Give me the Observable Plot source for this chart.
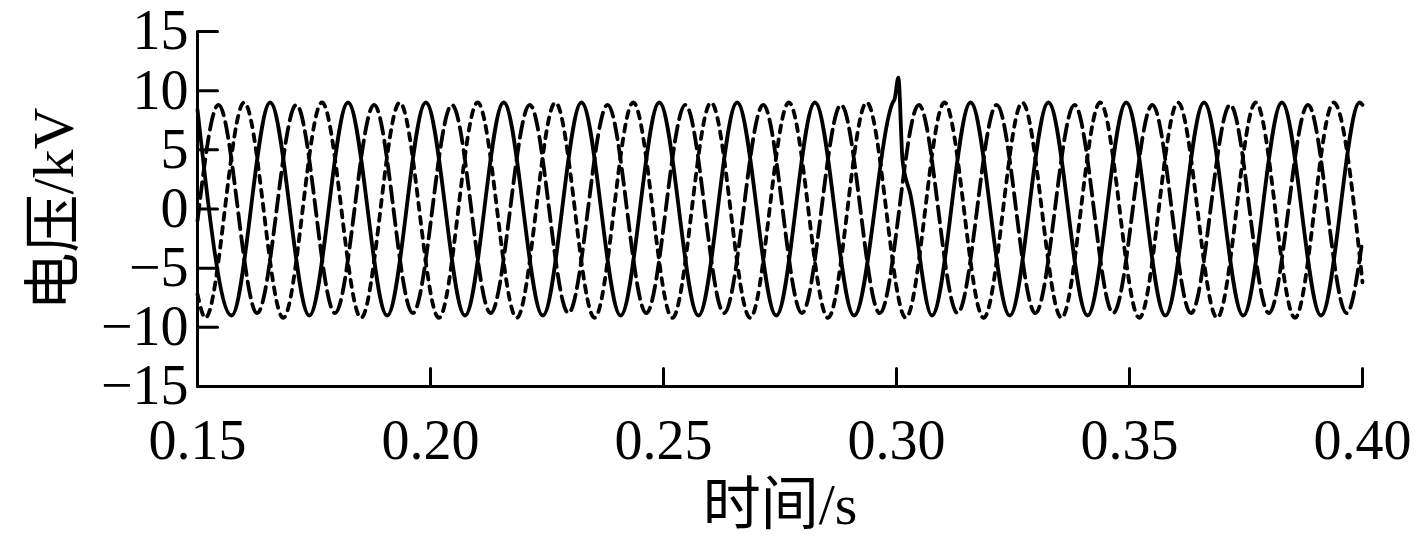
<!DOCTYPE html>
<html>
<head>
<meta charset="utf-8">
<script src="https://cdn.jsdelivr.net/npm/d3@7"></script>
<script src="https://cdn.jsdelivr.net/npm/@observablehq/plot@0.6"></script>
<style>
  html, body { margin: 0; padding: 0; background: #fff; }
</style>
</head>
<body>
<div id="chart"></div>
<script>
// ---- data ----
const xTicks = [0.15, 0.20, 0.25, 0.30, 0.35, 0.40];
const yTicks = [-15, -10, -5, 0, 5, 10, 15];
const xLabel = "时间/s";
const yLabel = "电压/kV";

// solid phase: extremes (peaks / troughs) and the disturbance at 0.30 s
const solidT = [0.15, 0.1573, 0.1656, 0.1740, 0.1823, 0.1907, 0.1990, 0.2074, 0.2157, 0.2241, 0.2324, 0.2408, 0.2491, 0.2575, 0.2658, 0.2742, 0.2825, 0.2909, 0.2992, 0.2996, 0.3004, 0.3013, 0.3030, 0.3076, 0.3159, 0.3243, 0.3326, 0.3410, 0.3493, 0.3577, 0.3660, 0.3744, 0.3827, 0.3911, 0.3994, 0.40];
const solidV = [8.4, -9.0, 9.0, -9.0, 9.0, -9.0, 9.0, -9.0, 9.0, -9.0, 9.0, -9.0, 9.0, -9.0, 9.0, -9.0, 9.0, -9.0, 9.0, 9.3, 11.1, 4.1, 1.2, -9.0, 9.0, -9.0, 9.0, -9.0, 9.0, -9.0, 9.0, -9.0, 9.0, -9.0, 9.0, 8.8];

// dashed phase
const dashedT = [0.15, 0.1545, 0.1628, 0.1712, 0.1795, 0.1879, 0.1962, 0.2046, 0.2129, 0.2213, 0.2296, 0.2380, 0.2463, 0.2547, 0.2630, 0.2714, 0.2797, 0.2881, 0.2964, 0.3048, 0.3131, 0.3215, 0.3298, 0.3382, 0.3465, 0.3549, 0.3632, 0.3716, 0.3799, 0.3883, 0.3966, 0.40];
const dashedV = [-1.0, 8.8, -8.8, 8.8, -8.8, 8.8, -8.8, 8.8, -8.8, 8.8, -8.8, 8.8, -8.8, 8.8, -8.8, 8.8, -8.8, 8.8, -8.8, 8.8, -8.8, 8.8, -8.8, 8.8, -8.8, 8.8, -8.8, 8.8, -8.8, 8.8, -8.8, -2.6];

// dotted phase
const dottedT = [0.15, 0.1517, 0.1600, 0.1684, 0.1767, 0.1851, 0.1934, 0.2018, 0.2101, 0.2185, 0.2268, 0.2352, 0.2435, 0.2519, 0.2602, 0.2686, 0.2769, 0.2853, 0.2936, 0.3020, 0.3103, 0.3187, 0.3270, 0.3354, 0.3437, 0.3521, 0.3604, 0.3688, 0.3771, 0.3855, 0.3938, 0.40];
const dottedV = [-7.2, -9.2, 9.0, -9.2, 9.0, -9.2, 9.0, -9.2, 9.0, -9.2, 9.0, -9.2, 9.0, -9.2, 9.0, -9.2, 9.0, -9.2, 9.0, -9.2, 9.0, -9.2, 9.0, -9.2, 9.0, -9.2, 9.0, -9.2, 9.0, -9.2, 9.0, -6.2];

// ---- build tables ----
const toRows = (T, V) => T.map((t, i) => ({t, v: V[i]}));
const solidRows = toRows(solidT, solidV);
const dashedRows = toRows(dashedT, dashedV);
const dottedRows = toRows(dottedT, dottedV);

const xDomain = [xTicks[0], xTicks[xTicks.length - 1]];
const yDomain = [yTicks[0], yTicks[yTicks.length - 1]];
const fmtY = d => d < 0 ? "\u2212" + Math.abs(d) : String(d);
const fmtX = d => d.toFixed(2);

const FONT = "'Liberation Serif', 'Noto Sans CJK SC', serif";

// a plain tick stroke for the vector mark (points "up" before rotation)
const tickShape = {draw(context, l) { context.moveTo(0, 0); context.lineTo(0, -l); }};

const lineOpts = {x: "t", y: "v", stroke: "black", strokeWidth: 3.8, curve: "monotone-x"};

const chart = Plot.plot({
  width: 1415,
  height: 542,
  marginLeft: 197,
  marginRight: 53,
  marginTop: 31,
  marginBottom: 156,
  style: {fontFamily: FONT, fontSize: "56px", background: "white", color: "black", overflow: "visible"},
  x: {domain: xDomain},
  y: {domain: yDomain},
  marks: [
    Plot.line(dottedRows, {...lineOpts, strokeDasharray: "7,7"}),
    Plot.line(dashedRows, {...lineOpts, strokeDasharray: "16,7"}),
    Plot.line(solidRows, {...lineOpts, strokeLinejoin: "round"}),
    // axis lines
    Plot.ruleX([xDomain[0]], {stroke: "black", strokeWidth: 3}),
    Plot.ruleY([yDomain[0]], {stroke: "black", strokeWidth: 3}),
    // inward ticks
    Plot.vector(yTicks, {y: d => d, frameAnchor: "left", length: 20, rotate: 90, anchor: "start", shape: tickShape, stroke: "black", strokeWidth: 3}),
    Plot.vector(xTicks, {x: d => d, frameAnchor: "bottom", length: 18, rotate: 0, anchor: "start", shape: tickShape, stroke: "black", strokeWidth: 3}),
    // tick labels
    Plot.axisY(yTicks, {anchor: "left", tickSize: 0, tickPadding: 9, fontSize: 56, tickFormat: fmtY, label: null}),
    Plot.axisX(xTicks, {anchor: "bottom", tickSize: 0, tickPadding: 33, fontSize: 56, tickFormat: fmtX, label: null}),
    // axis titles
    Plot.text([xLabel], {frameAnchor: "bottom", dy: 119, lineAnchor: "middle", textAnchor: "middle", fontSize: 58, text: d => d, fill: "black"}),
    Plot.text([yLabel], {frameAnchor: "left", rotate: -90, dx: -143, lineAnchor: "middle", textAnchor: "middle", fontSize: 58, text: d => d, fill: "black"})
  ]
});
document.getElementById("chart").appendChild(chart);
</script>
</body>
</html>
